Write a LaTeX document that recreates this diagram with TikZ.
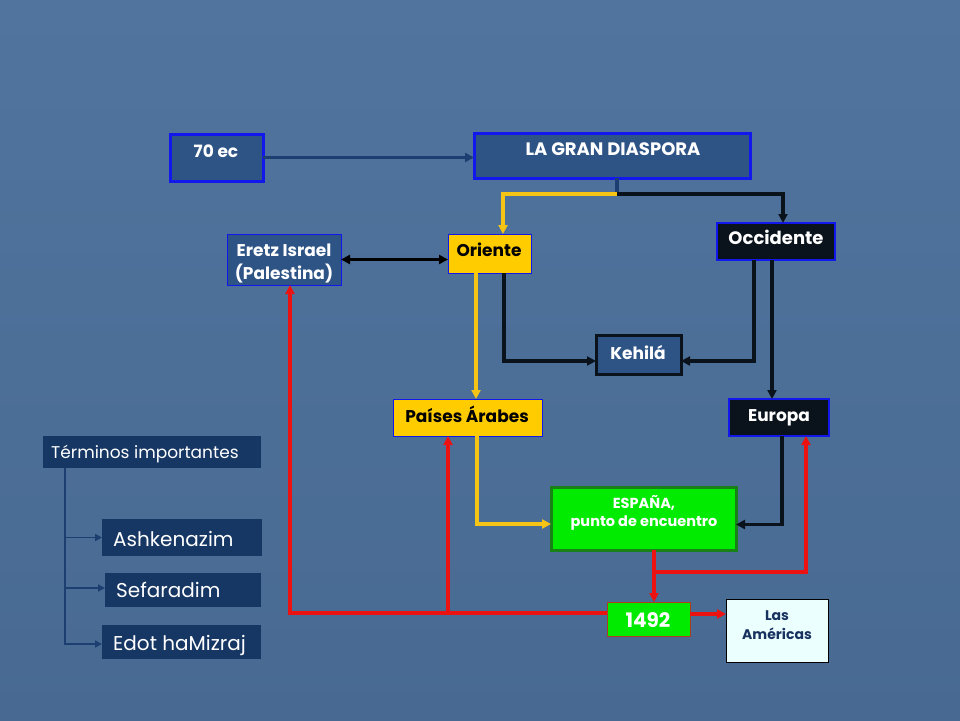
\documentclass[tikz,border=0pt]{standalone}
\usepackage{fontspec}
\setmainfont{Poppins}
\usetikzlibrary{arrows.meta}
\definecolor{bgtop}{RGB}{80,116,158}
\definecolor{bgbot}{RGB}{72,106,146}
\definecolor{boxblue}{RGB}{46,84,134}
\definecolor{bordblue}{RGB}{18,24,235}
\definecolor{darkbox}{RGB}{10,18,28}
\definecolor{yel}{RGB}{255,204,0}
\definecolor{yline}{RGB}{246,196,20}
\definecolor{gfill}{RGB}{0,235,0}
\definecolor{gbord}{RGB}{24,130,24}
\definecolor{rline}{RGB}{236,18,18}
\definecolor{navyline}{RGB}{28,62,112}
\definecolor{termbox}{RGB}{22,54,100}
\definecolor{amfill}{RGB}{236,255,255}
\definecolor{amtext}{RGB}{24,50,96}
\definecolor{redbord}{RGB}{176,60,30}
\tikzset{
  box/.style={rectangle, inner sep=0pt, outer sep=0pt, anchor=north west},
  bluebox/.style={box, fill=boxblue, draw=bordblue},
  yelbox/.style={box, fill=yel, draw=bordblue, line width=1pt},
  darkbx/.style={box, fill=darkbox, draw=bordblue, line width=1.5pt},
  termbx/.style={box, fill=termbox},
  btxt/.style={anchor=base, inner sep=0pt, font=\bfseries\fontsize{17}{20}\selectfont, text=white},
  ktxt/.style={btxt, text=black},
  ttxt/.style={anchor=base west, inner sep=0pt, text=white},
  conn/.style={line width=3.4pt, -{Triangle[length=9pt,width=9pt]}},
  blk/.style={conn, draw=darkbox},
  yl/.style={conn, draw=yline},
  rd/.style={conn, draw=rline},
  tree/.style={line width=1.8pt, draw=navyline, -{Triangle[length=7pt,width=7pt]}}
}
\begin{document}
\begin{tikzpicture}[x=1pt,y=-1pt]
\shade[top color=bgtop, bottom color=bgbot] (0,0) rectangle (960,720);
\useasboundingbox (0,0) rectangle (960,720);

% boxes
\node[bluebox, line width=3pt, minimum width=93, minimum height=47] (ec) at (170,134) {};
\node[bluebox, line width=3pt, minimum width=276, minimum height=45] (gd) at (474,133) {};
\node[bluebox, line width=1pt, minimum width=114, minimum height=51] (er) at (227,234) {};
\node[yelbox, minimum width=83, minimum height=39] (or) at (448,234) {};
\node[darkbx, minimum width=118, minimum height=37] (oc) at (717,223) {};
\node[box, fill=boxblue, draw=darkbox, line width=3pt, minimum width=85, minimum height=39] (ke) at (596,335) {};
\node[yelbox, minimum width=149, minimum height=37] (pa) at (393,399) {};
\node[darkbx, minimum width=100, minimum height=37] (eu) at (729,399) {};
\node[box, fill=gfill, draw=gbord, line width=3pt, minimum width=185, minimum height=63] (es) at (551,487) {};
\node[box, fill=gfill, draw=redbord, line width=1pt, minimum width=83, minimum height=34] (y1492) at (607,602) {};
\node[box, fill=amfill, draw=black, line width=1pt, minimum width=102, minimum height=63] (am) at (726,599) {};
\node[termbx, minimum width=218, minimum height=32] (ti) at (43,436) {};
\node[termbx, minimum width=160, minimum height=37] (as) at (102,519) {};
\node[termbx, minimum width=156, minimum height=34] (se) at (105,573) {};
\node[termbx, minimum width=159, minimum height=34] (ed) at (102,625) {};

% texts
\node[btxt] at (216,157) {70 ec};
\node[btxt, font=\bfseries\fontsize{18}{21}\selectfont] at (613,155) {LA GRAN DIASPORA};
\node[btxt] at (284,256) {Eretz Israel};
\node[btxt] at (284,279) {(Palestina)};
\node[ktxt] at (489,256) {Oriente};
\node[btxt, font=\bfseries\fontsize{18}{21}\selectfont] at (776,244) {Occidente};
\node[btxt] at (638,359) {Kehilá};
\node[ktxt] at (467,422) {Países Árabes};
\node[btxt] at (779,421) {Europa};
\node[btxt, font=\bfseries\fontsize{14.5}{17}\selectfont] at (644,508) {ESPAÑA,};
\node[btxt, font=\bfseries\fontsize{14.5}{17}\selectfont] at (644,526) {punto de encuentro};
\node[btxt, font=\bfseries\fontsize{20}{23}\selectfont] at (648,627) {1492};
\node[btxt, text=amtext, font=\bfseries\fontsize{14}{17}\selectfont] at (777,620) {Las};
\node[btxt, text=amtext, font=\bfseries\fontsize{14}{17}\selectfont] at (777,639) {Américas};
\node[ttxt, font=\fontsize{17}{20}\selectfont] at (51,458) {Términos importantes};
\node[ttxt, font=\fontsize{20}{24}\selectfont] at (113,546) {Ashkenazim};
\node[ttxt, font=\fontsize{20}{24}\selectfont] at (116,597) {Sefaradim};
\node[ttxt, font=\fontsize{20}{24}\selectfont] at (113,650) {Edot haMizraj};

% connectors
\draw[conn, draw=navyline] (ec.east) -- (ec.east -| gd.west);
\coordinate (j1) at (617,194);
\draw[line width=3.4pt, draw=navyline] (j1 |- gd.south) -- (j1);
\draw[yl] (j1) -| ([xshift=13.5pt]or.north);
\draw[blk] (j1) -| ([xshift=7pt]oc.north);
\draw[line width=3.4pt, draw=black, {Triangle[length=9pt,width=9pt]}-{Triangle[length=9pt,width=9pt]}] (er.east) -- (er.east -| or.west);
\draw[blk] ([xshift=14.5pt]or.south) |- ([yshift=-6.5pt]ke.west);
\draw[blk] ([xshift=-22pt]oc.south) |- ([yshift=-6.5pt]ke.east);
\draw[blk] ([xshift=-4pt]oc.south) -- ([xshift=-4pt]oc.south |- eu.north);
\draw[yl] ([xshift=-13.5pt]or.south) -- ([xshift=-13.5pt]or.south |- pa.north);
\draw[yl] ([xshift=9.5pt]pa.south) |- ([yshift=-5.5pt]es.west);
\draw[blk] ([xshift=3pt]eu.south) |- ([yshift=-6pt]es.east);
\coordinate (j2) at (654,572);
\draw[rd] (j2 |- es.south) -- (j2 |- y1492.north);
\draw[rd] (j2) -| ([xshift=27pt]eu.south);
\draw[rd] ([yshift=5pt]y1492.east) -- ([yshift=5pt]y1492.east -| am.west);
\coordinate (j3) at (448,613);
\draw[rd] ([yshift=6pt]y1492.west) -| ([xshift=6pt]er.south);
\draw[rd] (j3) -- (j3 |- pa.south);
\draw[tree] ([xshift=-87pt]ti.south) |- (as.west);
\draw[tree] ([xshift=-87pt]ti.south) |- ([yshift=2pt]se.west);
\draw[tree] ([xshift=-87pt]ti.south) |- ([yshift=-2pt]ed.west);
\end{tikzpicture}
\end{document}
